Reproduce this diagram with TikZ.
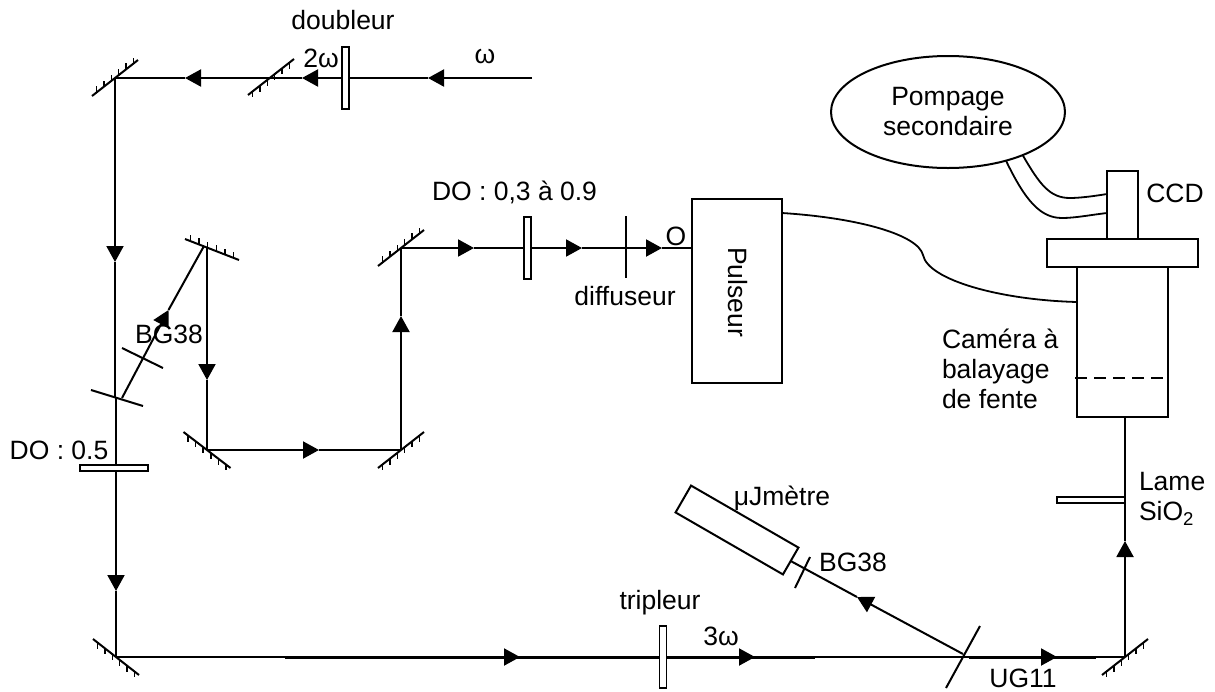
\documentclass[tikz,border=0pt]{standalone}
\usepackage{fontspec}
\setmainfont{Liberation Sans}
\usetikzlibrary{arrows.meta, calc, shapes.geometric}

\tikzset{
	beam/.style={line width=2pt},
	headed/.style={-{Triangle[length=16pt,width=17pt]}},
	box/.style={draw, line width=2pt, inner sep=0pt, outer sep=0pt},
	plate/.style={draw, line width=1.6pt, inner sep=0pt, outer sep=0pt},
	glass/.style={line width=2pt},
	wire/.style={line width=1.8pt},
	lbl/.style={inner sep=0pt, outer sep=0pt},
}
% centre, half of the mirror line, hatch stroke
\newcommand{\mirror}[3]{
	\draw[glass] ($(#1)-(#2)$) -- ($(#1)+(#2)$);
	\foreach \t in {0.2,0.52,...,1.85}
		\draw[line width=1.5pt] ($(#1)-(#2)+\t*(#2)$) -- ++(#3);
}

\begin{document}
\begin{tikzpicture}[x=1pt, y=-1pt, >=Stealth, font=\fontsize{26.5}{30}\selectfont]
	\useasboundingbox (0,0) rectangle (1215,691);

	% mirrors and plates
	\coordinate (mirrorA) at (115,78);
	\coordinate (mirrorB) at (271,77);
	\coordinate (mirrorC) at (212,249.5);
	\coordinate (mirrorD) at (207,450);
	\coordinate (mirrorE) at (401,450);
	\coordinate (mirrorF) at (401,248);
	\coordinate (mirrorG) at (116,657);
	\coordinate (mirrorH) at (1125,657);

	\node[plate, fill=white, minimum width=7pt, minimum height=62pt] (doubleur) at (345.5,78) {};
	\node[plate, fill=white, minimum width=7pt, minimum height=62pt] (density) at (527.5,248) {};
	\node[plate, fill=white, minimum width=7pt, minimum height=62pt] (tripleur) at (663,657) {};
	\node[plate, fill=white, minimum width=68pt, minimum height=6pt] (half) at (114,468) {};
	\node[plate, fill=white, minimum width=68pt, minimum height=6pt] (lame) at (1091,500) {};

	\node[box, minimum width=90pt, minimum height=184pt] (pulseur) at (737,291) {};
	\node[box, minimum width=31pt, minimum height=68pt] (ccd) at (1122.5,205) {};
	\node[box, minimum width=151pt, minimum height=28pt] (flange) at (1122.5,253) {};
	\node[box, minimum width=91pt, minimum height=150pt] (camera) at (1122.5,342) {};
	\node[box, ellipse, minimum width=234pt, minimum height=112pt] (pump) at (948,112) {};
	\node[box, rotate=-30, minimum width=124pt, minimum height=31pt] (energy) at (737,530) {};

	% beam points, the tips are the arrowheads
	\coordinate (input) at (532,78);
	\coordinate (tipA) at (428,78);
	\coordinate (tipB) at (302,78);
	\coordinate (tipC) at (185,78);
	\coordinate (tipD) at (115,262);
	\coordinate (splitA) at (115,398);
	\coordinate (splitB) at (116,398);
	\coordinate (splitC) at (122,398);
	\coordinate (halfA) at (116,465);
	\coordinate (halfB) at (116,471);
	\coordinate (tipE) at (116,591);
	\coordinate (tipF) at (520,657);
	\coordinate (tipG) at (755,657);
	\coordinate (tipH) at (1057,657);
	\coordinate (tipI) at (1125,541);
	\coordinate (camIn) at (1125,417);
	\coordinate (splitD) at (963,654);
	\coordinate (tipJ) at (857,597);
	\coordinate (tipK) at (168.5,310);
	\coordinate (topC) at (204,246);
	\coordinate (downC) at (207,247);
	\coordinate (tipL) at (207,380);
	\coordinate (tipM) at (319,450);
	\coordinate (tipN) at (401,316);
	\coordinate (tipO) at (474,248);
	\coordinate (tipP) at (582,248);
	\coordinate (tipQ) at (662,248);
	\coordinate (pulseIn) at (692,248);

	\foreach \from/\to in {input/tipA, doubleur.west/tipB, tipB/tipC, mirrorA/tipD, halfB/tipE,
			mirrorG/tipF, tripleur.east/tipG, tipG/tipH, mirrorH/tipI, splitD/tipJ, splitC/tipK,
			downC/tipL, mirrorD/tipM, mirrorE/tipN, mirrorF/tipO, density.east/tipP, tipP/tipQ}
		\draw[beam, headed] (\from) -- (\to);
	\foreach \from/\to in {tipA/doubleur.east, tipC/mirrorA, tipD/splitA, splitB/halfA, tipE/mirrorG,
			tipF/tripleur.west, tipH/mirrorH, tipI/camIn, tipJ/energy.east, tipK/topC,
			tipL/mirrorD, tipM/mirrorE, tipN/mirrorF, tipO/density.west, tipQ/pulseIn}
		\draw[beam] (\from) -- (\to);

	% heavier stretches of the lower beam
	\coordinate (heavyA) at (285,657);
	\coordinate (heavyB) at (815,657);
	\coordinate (heavyC) at (969,657);
	\coordinate (heavyD) at (1096,657);
	\draw[line width=3pt] (heavyA) -- (tripleur.west) (tripleur.east) -- (heavyB) (heavyC) -- (heavyD);

	\mirror{mirrorA}{23,-18}{0,-6}
	\mirror{mirrorB}{23,-18}{0,6}
	\mirror{mirrorC}{27,10.5}{0,-6}
	\mirror{mirrorD}{23.5,18}{0,6}
	\mirror{mirrorE}{23,-18}{0,6}
	\mirror{mirrorF}{23,-18}{0,-6}
	\mirror{mirrorG}{23,18}{0,6}
	\mirror{mirrorH}{23,-18}{0,6}

	% thin filters
	\draw[glass] (91,390) -- (143,406);
	\draw[glass] (122,348) -- (163,368);
	\draw[glass] (626,216) -- (626,278);
	\draw[glass] (795,588) -- (810,557);
	\draw[glass] (946,688) -- (980,626);
	\draw[glass, dashed, dash pattern=on 12pt off 7pt] (1075,378) -- (1168,378);

	% cables
	\coordinate (cableIn) at (782,213);
	\coordinate (cableOut) at (1077,302);
	\coordinate (ccdA) at (1107,194);
	\coordinate (ccdB) at (1107,213);
	\draw[wire] (cableIn) .. controls (860,218) and (918,235) .. (923,255) .. controls (928,280) and (1000,300) .. (cableOut);
	\draw[wire] (pump.-30) .. controls (1040,185) and (1050,198) .. (1070,198) .. controls (1080,198) and (1095,196) .. (ccdA);
	\draw[wire] (pump.-40) .. controls (1025,200) and (1040,218) .. (1062,218) .. controls (1075,218) and (1090,215) .. (ccdB);

	% labels
	\node[lbl] (labelDoubleur) at (343,20) {doubleur};
	\node[lbl] (labelTwo) at (321,58) {2ω};
	\node[lbl] (labelOmega) at (485,56) {ω};
	\node[lbl] (labelDensity) at (514.5,192) {DO : 0,3 à 0.9};
	\node[lbl] (labelDiffuseur) at (625,296) {diffuseur};
	\node[lbl] (labelO) at (676,236) {O};
	\node[lbl, rotate=-90] (labelPulseur) at (738,292) {Pulseur};
	\node[lbl, align=center] (labelPump) at (948,112) {Pompage\\secondaire};
	\node[lbl] (labelCcd) at (1175,193) {CCD};
	\node[lbl, align=left, anchor=west] (labelCamera) at (942,369) {Caméra à\\balayage\\de fente};
	\node[lbl, align=left, anchor=west] (labelLame) at (1139,499) {Lame\\SiO\textsubscript{2}};
	\node[lbl] (labelBlueA) at (169,334) {BG38};
	\node[lbl] (labelHalf) at (59,450) {DO : 0.5};
	\node[lbl] (labelEnergy) at (782,498) {μJmètre};
	\node[lbl] (labelBlueB) at (853,562) {BG38};
	\node[lbl] (labelTripleur) at (660,603) {tripleur};
	\node[lbl] (labelThree) at (721,636) {3ω};
	\node[lbl] (labelUg) at (1023,678) {UG11};
\end{tikzpicture}
\end{document}
